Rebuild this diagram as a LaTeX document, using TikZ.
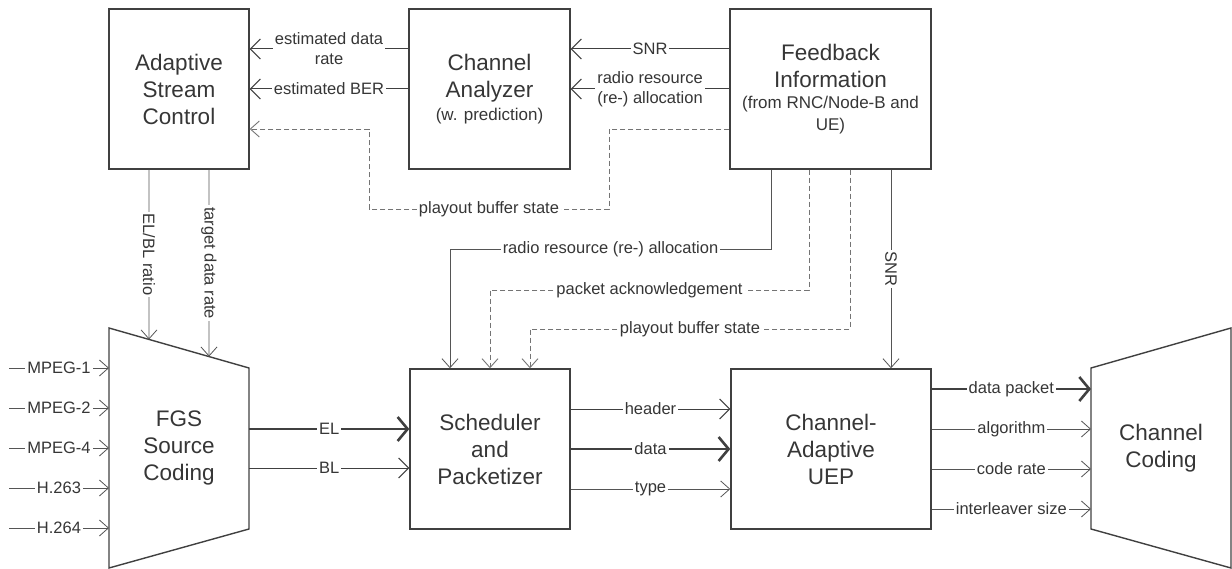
\documentclass[tikz,border=0pt]{standalone}
\usepackage{fontspec}
\setmainfont{Liberation Sans}
\usetikzlibrary{arrows.meta,calc}
\definecolor{boxgray}{HTML}{404040}
\definecolor{txtgray}{HTML}{363636}
\definecolor{linegray}{HTML}{555555}
\definecolor{dashgray}{HTML}{747474}
\newcommand{\subtxt}[1]{{\fontsize{17}{21}\selectfont #1}}

\begin{document}
\begin{tikzpicture}[x=1pt,y=-1pt,
    blktxt/.style={align=center,text=txtgray,font=\fontsize{22.5}{27}\selectfont,inner sep=0pt},
    blk/.style={blktxt,draw=boxgray,line width=1.4pt,minimum width=140pt,minimum height=160pt},
    shapeline/.style={draw=boxgray,line width=1.4pt,line join=miter},
    lbl/.style={fill=white,text=txtgray,font=\fontsize{16.5}{20}\selectfont,align=center,inner xsep=2pt,inner ysep=1pt},
    sigthin/.style={draw=linegray,line width=0.8pt,-{Straight Barb[length=9pt,width=16pt]}},
    sigmid/.style={draw=boxgray,line width=1pt,-{Straight Barb[length=10pt,width=20pt]}},
    sigbold/.style={draw=boxgray,line width=2.6pt,-{Straight Barb[length=10pt,width=24pt]}},
    sigdash/.style={draw=dashgray,line width=0.9pt,dash pattern=on 5pt off 3pt,-{Straight Barb[length=9pt,width=16pt]}}]
    \useasboundingbox (0,0) rectangle (1232,569);
    % Top row of blocks
    \node[blk] (asc) at (179,89) {Adaptive\\Stream\\Control};
    \node[blk,minimum width=161pt] (ca) at (489.5,89) {Channel\\Analyzer\\[-4pt]\subtxt{(w. prediction)}};
    \node[blk,minimum width=201pt] (fi) at (830.5,89) {Feedback\\Information\\[-6pt]\subtxt{(from RNC/Node-B and}\\[-5pt]\subtxt{UE)}};
    % Bottom row of blocks
    \node[blk,minimum width=160pt] (sch) at (490,449) {Scheduler\\and\\Packetizer};
    \node[blk,minimum width=200pt] (uep) at (831,449) {Channel-\\Adaptive\\UEP};
    % Two trapezoids
    \draw[shapeline] (109,328) coordinate (fgs-nw) -- (249,368) coordinate (fgs-ne)
        -- (249,529) coordinate (fgs-se) -- (109,568) coordinate (fgs-sw) -- cycle;
    \node[blktxt] (fgs) at (179,448) {FGS\\Source\\Coding};
    \draw[shapeline] (1091,368) coordinate (cc-nw) -- (1231,328) coordinate (cc-ne)
        -- (1231,568) coordinate (cc-se) -- (1091,529) coordinate (cc-sw) -- cycle;
    \node[blktxt] (cc) at (1161,448) {Channel\\Coding};
    % Feedback to analyzer and stream control
    \draw[sigmid] ([yshift=40pt]ca.west) -- node[lbl]{estimated data\\rate} ([yshift=40pt]asc.east);
    \draw[sigmid] (ca.west) -- node[lbl]{estimated BER} (asc.east);
    \draw[sigmid] ([yshift=40pt]fi.west) -- node[lbl]{SNR} ([yshift=40pt]ca.east);
    \draw[sigmid] (fi.west) -- node[lbl]{radio resource\\(re-) allocation} (ca.east);
    \draw[sigdash] ([yshift=-40pt]fi.west) -| (609,209) -- node[lbl]{playout buffer state} (369,209) |- ([yshift=-40pt]asc.east);
    % Feedback down to scheduler and UEP
    \draw[sigthin] ([xshift=-59.5pt]fi.south) -- (771,249) -- node[lbl]{radio resource (re-) allocation} (450,249) -- ([xshift=-40pt]sch.north);
    \draw[sigdash] ([xshift=-21.5pt]fi.south) -- (809,290) -- node[lbl]{packet acknowledgement} (490,290) -- (sch.north);
    \draw[sigdash] ([xshift=19.5pt]fi.south) -- (850,329) -- node[lbl]{playout buffer state} (530,329) -- ([xshift=40pt]sch.north);
    \draw[sigthin] ([xshift=60.5pt]fi.south) -- node[lbl,rotate=-90]{SNR} ([xshift=60pt]uep.north);
    % Stream control to source coding
    \coordinate (fgs-r) at ($(fgs-nw)!0.2857!(fgs-ne)$);
    \coordinate (fgs-t) at ($(fgs-nw)!0.7143!(fgs-ne)$);
    \draw[sigthin] ([xshift=-30pt]asc.south) -- node[lbl,rotate=-90]{EL/BL ratio} (fgs-r);
    \draw[sigthin] ([xshift=30pt]asc.south) -- node[lbl,rotate=-90]{target data rate} (fgs-t);
    % Video inputs
    \coordinate (in1) at (9,368);
    \coordinate (in2) at (9,408);
    \coordinate (in3) at (9,448);
    \coordinate (in4) at (9,488);
    \coordinate (in5) at (9,528);
    \draw[sigthin] (in1) -- node[lbl]{MPEG-1} (fgs-nw |- in1);
    \draw[sigthin] (in2) -- node[lbl]{MPEG-2} (fgs-nw |- in2);
    \draw[sigthin] (in3) -- node[lbl]{MPEG-4} (fgs-nw |- in3);
    \draw[sigthin] (in4) -- node[lbl]{H.263} (fgs-nw |- in4);
    \draw[sigthin] (in5) -- node[lbl]{H.264} (fgs-nw |- in5);
    % Source coding to scheduler
    \coordinate (fgs-el) at (249,429);
    \coordinate (fgs-bl) at (249,468);
    \draw[sigbold] (fgs-el) -- node[lbl]{EL} (fgs-el -| sch.west);
    \draw[sigmid] (fgs-bl) -- node[lbl]{BL} (fgs-bl -| sch.west);
    % Scheduler to UEP
    \draw[sigmid] ([yshift=40pt]sch.east) -- node[lbl]{header} ([yshift=40pt]uep.west);
    \draw[sigbold] (sch.east) -- node[lbl]{data} (uep.west);
    \draw[sigthin] ([yshift=-40pt]sch.east) -- node[lbl]{type} ([yshift=-40pt]uep.west);
    % UEP to channel coding
    \coordinate (cc-in1) at (1091,389);
    \coordinate (cc-in2) at (1091,429);
    \coordinate (cc-in3) at (1091,469);
    \coordinate (cc-in4) at (1091,509);
    \draw[sigbold] (uep.east |- cc-in1) -- node[lbl]{data packet} (cc-in1);
    \draw[sigthin] (uep.east |- cc-in2) -- node[lbl]{algorithm} (cc-in2);
    \draw[sigthin] (uep.east |- cc-in3) -- node[lbl]{code rate} (cc-in3);
    \draw[sigthin] (uep.east |- cc-in4) -- node[lbl]{interleaver size} (cc-in4);
\end{tikzpicture}
\end{document}
